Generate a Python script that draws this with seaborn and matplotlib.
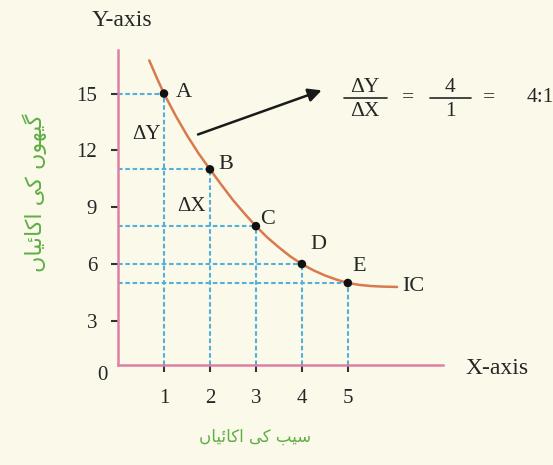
import matplotlib
matplotlib.use("Agg")
import matplotlib.pyplot as plt
from matplotlib.lines import Line2D
import seaborn as sns
import pandas as pd

# Indifference schedule: units of apples (X) against units of wheat (Y)
point_labels = ["A", "B", "C", "D", "E"]
apples = [1, 2, 3, 4, 5]
wheat = [15, 11, 8, 6, 5]

# Indifference curve traced through the schedule
curve_x = [0.68, 0.84, 1.0, 1.25, 1.5, 1.75, 2.0, 2.25, 2.5, 2.75, 3.0, 3.25,
           3.5, 3.75, 4.0, 4.25, 4.5, 4.75, 5.0, 5.25, 5.5, 5.75, 6.07]
curve_y = [16.75, 15.85, 15.0, 13.85, 12.8, 11.85, 11.0, 10.18, 9.38, 8.67, 8.0, 7.4,
           6.88, 6.4, 6.0, 5.67, 5.4, 5.18, 5.0, 4.9, 4.84, 4.81, 4.79]

x_ticks = [1, 2, 3, 4, 5]
y_ticks = [3, 6, 9, 12, 15]

x_title = "X-axis"
y_title = "Y-axis"
curve_name = "IC"
x_label_ur = "سیب کی اکائیاں"
y_label_ur = "گیہوں کی اکائیاں"

BG = "#fbf9ea"
PINK = "#de7fa6"
CURVE = "#d77a4e"
GUIDE = "#52b0dc"
GREEN = "#5fae45"
INK = "#262626"

# Contextual forms (isolated, final, initial, medial) for the Urdu letters used,
# since the text renderer does no Arabic-script shaping on its own.
# DejaVu Sans has no medial heh goal, so the medial heh shape stands in for it.
_FORMS = {
    "ا": ("\uFE8D", "\uFE8E", None, None),
    "ب": ("\uFE8F", "\uFE90", "\uFE91", "\uFE92"),
    "س": ("\uFEB1", "\uFEB2", "\uFEB3", "\uFEB4"),
    "و": ("\uFEED", "\uFEEE", None, None),
    "ئ": ("\uFE89", "\uFE8A", "\uFE8B", "\uFE8C"),
    "ک": ("\uFB8E", "\uFB8F", "\uFB90", "\uFB91"),
    "گ": ("\uFB92", "\uFB93", "\uFB94", "\uFB95"),
    "ں": ("\uFB9E", "\uFB9F", None, None),
    "ہ": ("\uFBA6", "\uFBA7", "\uFBA8", "\uFEEC"),
    "ی": ("\uFBFC", "\uFBFD", "\uFBFE", "\uFBFF"),
}


def shape_urdu(text):
    words = []
    for word in text.split(" "):
        glyphs = []
        for i, ch in enumerate(word):
            iso, fin, ini, med = _FORMS[ch]
            prev_joins = i > 0 and _FORMS[word[i - 1]][2] is not None
            next_joins = i < len(word) - 1 and ini is not None
            if prev_joins and next_joins:
                glyphs.append(med)
            elif prev_joins:
                glyphs.append(fin)
            elif next_joins:
                glyphs.append(ini)
            else:
                glyphs.append(iso)
        words.append("".join(glyphs))
    return " ".join(words)[::-1]


sns.set_theme(style="white")
plt.rcParams["font.family"] = ["Liberation Serif", "DejaVu Sans"]
plt.rcParams["text.color"] = INK

W, H = 553, 465
fig = plt.figure(figsize=(W / 100, H / 100), dpi=100, facecolor=BG)
ax = fig.add_axes([118 / W, 1 - 377.7 / H, 325 / W, 327.7 / H])
ax.set_facecolor("none")


def fx(px):
    return px / W


def fy(py):
    return 1 - py / H


X_BASE = 0.65  # height at which the horizontal axis line is drawn

# Guide lines from each point to both axes
for xv, yv in zip(apples, wheat):
    ax.plot([0, xv], [yv, yv], color=GUIDE, lw=1.5, dashes=(2.2, 1.3), zorder=1)
    ax.plot([xv, xv], [X_BASE, yv], color=GUIDE, lw=1.5, dashes=(2.2, 1.3), zorder=1)

curve_df = pd.DataFrame({"x": curve_x, "y": curve_y})
sns.lineplot(data=curve_df, x="x", y="y", ax=ax, color=CURVE, lw=1.8,
             estimator=None, sort=False, zorder=3)

pts = pd.DataFrame({"x": apples, "y": wheat, "label": point_labels})
sns.scatterplot(data=pts, x="x", y="y", ax=ax, color="#111111", s=38,
                edgecolor="none", zorder=4)

label_offsets = {"A": (20, 1), "B": (16, 5), "C": (12, 7), "D": (16, 20), "E": (11, 16)}
for _, r in pts.iterrows():
    dx, dy = label_offsets[r["label"]]
    ax.annotate(r["label"], (r["x"], r["y"]), xytext=(dx, dy),
                textcoords="offset pixels", ha="center", va="center",
                fontsize=16, color=INK, annotation_clip=False)

ax.annotate(curve_name, (curve_x[-1], curve_y[-1]), xytext=(16, 0),
            textcoords="offset pixels", ha="center", va="center",
            fontsize=16, color=INK, annotation_clip=False)

ax.text(0.61, 12.84, "ΔY", ha="center", va="center", fontsize=15, color=INK)
ax.text(1.59, 9.03, "ΔX", ha="center", va="center", fontsize=15, color=INK)

ax.annotate("", xy=(4.43, 15.17), xytext=(1.74, 12.84),
            arrowprops=dict(arrowstyle="-|>", lw=1.8, color="#1a1a1a",
                            mutation_scale=20, shrinkA=0, shrinkB=0),
            annotation_clip=False)

ax.set_xlim(0, 7.07)
ax.set_ylim(0, 17.3)
ax.set_xticks(x_ticks)
ax.set_yticks(y_ticks)
ax.set_xlabel("")
ax.set_ylabel("")
ax.tick_params(axis="both", length=5, width=1.5, color="#333333",
               labelsize=15, labelcolor=INK, left=True, bottom=True)
ax.tick_params(axis="y", pad=10)
ax.tick_params(axis="x", pad=12)

for side in ("top", "right"):
    ax.spines[side].set_visible(False)
for side in ("left", "bottom"):
    ax.spines[side].set_color(PINK)
    ax.spines[side].set_linewidth(1.8)
ax.spines["bottom"].set_position(("data", X_BASE))
ax.spines["left"].set_bounds(X_BASE, 17.3)

ax.text(-0.33, 0.14, "0", ha="center", va="center", fontsize=15, color=INK)

fig.text(fx(122), fy(20), y_title, ha="center", va="center", fontsize=17)
fig.text(fx(497), fy(368), x_title, ha="center", va="center", fontsize=17)

# Slope of the first segment, written as a ratio
fig.text(fx(365), fy(87), "ΔY", ha="center", va="center", fontsize=15.5)
fig.text(fx(365), fy(111), "ΔX", ha="center", va="center", fontsize=15.5)
fig.add_artist(Line2D([fx(344), fx(387)], [fy(98), fy(98)], color=INK, lw=1.2))
fig.text(fx(408), fy(98), "=", ha="center", va="center", fontsize=15.5)
fig.text(fx(450), fy(87), "4", ha="center", va="center", fontsize=15.5)
fig.text(fx(450), fy(112), "1", ha="center", va="center", fontsize=15.5)
fig.add_artist(Line2D([fx(430), fx(471)], [fy(98), fy(98)], color=INK, lw=1.2))
fig.text(fx(489), fy(98), "=", ha="center", va="center", fontsize=15.5)
fig.text(fx(540), fy(98), "4:1", ha="center", va="center", fontsize=15.5)

fig.text(fx(255), fy(437), shape_urdu(x_label_ur), ha="center", va="center",
         fontsize=12, color=GREEN, family=["DejaVu Sans"])
fig.text(fx(35), fy(193), shape_urdu(y_label_ur), ha="center", va="center",
         fontsize=16, color=GREEN, family=["DejaVu Sans"], rotation=90)

fig.savefig("out.png", dpi=100, facecolor=BG)
